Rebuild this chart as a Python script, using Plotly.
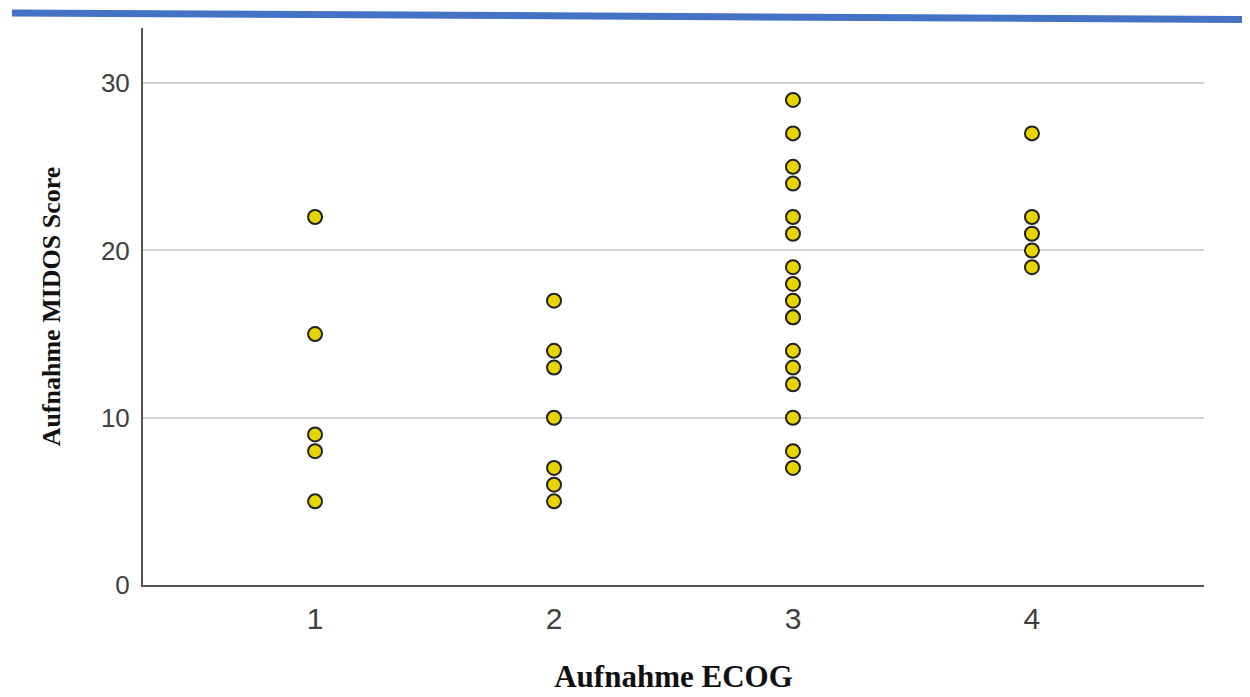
import plotly.graph_objects as go

# Data
ecog_1 = [22, 15, 9, 8, 5]
ecog_2 = [17, 14, 13, 10, 7, 6, 5]
ecog_3 = [29, 27, 25, 24, 22, 21, 19, 18, 17, 16, 16, 14, 13, 12, 10, 8, 7]
ecog_4 = [27, 22, 21, 20, 19]
groups = [1, 2, 3, 4]
y_ticks = [0, 10, 20, 30]

xs, ys = [], []
for g, vals in zip(groups, [ecog_1, ecog_2, ecog_3, ecog_4]):
    xs += [g] * len(vals)
    ys += vals

W, H = 1250, 697
OFF = 8  # page body margin
ML, MR, MT, MB = 135, 54, 20, 120
PW, PH = W - ML - MR, H - MT - MB

def px(x):
    return (x - OFF - ML) / PW

def py(y):
    return (H - MB - (y - OFF)) / PH

fig = go.Figure()
fig.add_trace(go.Scatter(
    x=xs, y=ys, mode="markers",
    marker=dict(size=14, color="#e6d500", line=dict(color="#222222", width=2)),
    showlegend=False, hoverinfo="x+y",
))

fig.update_layout(
    width=W, height=H,
    margin=dict(l=ML, r=MR, t=MT, b=MB, autoexpand=False),
    plot_bgcolor="white", paper_bgcolor="white",
    xaxis=dict(
        range=[0.28, 4.72], tickvals=groups, ticktext=[str(g) for g in groups],
        showgrid=False, zeroline=False, automargin=False,
        showline=True, linecolor="#555555", linewidth=2,
        ticks="", ticklabelstandoff=6,
        tickfont=dict(family="Liberation Sans", size=30, color="#404040"),
        title=dict(text="<b>Aufnahme ECOG</b>", standoff=31,
                   font=dict(family="Liberation Serif", size=31, color="#111111")),
    ),
    yaxis=dict(
        range=[0, 33.3], tickvals=y_ticks,
        showgrid=True, gridcolor="#d2d2d2", gridwidth=2,
        zeroline=False, automargin=False,
        showline=True, linecolor="#555555", linewidth=2,
        ticks="", ticklabelstandoff=6,
        tickfont=dict(family="Liberation Sans", size=26, color="#404040"),
        title=dict(text="<b>Aufnahme MIDOS Score</b>", standoff=33,
                   font=dict(family="Liberation Serif", size=26, color="#111111")),
    ),
    shapes=[dict(
        type="line", xref="paper", yref="paper",
        x0=px(12), y0=py(13), x1=px(1258), y1=py(19.5),
        line=dict(color="#4472c4", width=7),
    )],
)

fig.write_html("out.html")
